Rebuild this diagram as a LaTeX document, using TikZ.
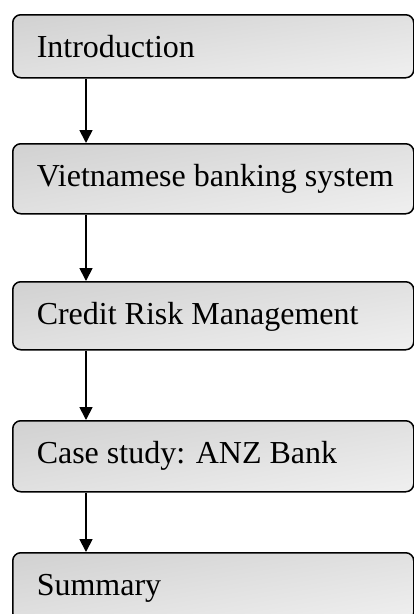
\documentclass[tikz,border=0pt]{standalone}
\usepackage{fontspec}
\setmainfont{Liberation Serif}
\usetikzlibrary{arrows.meta}

% grey at the upper left corner, white at the lower right corner
\pgfdeclarefunctionalshading{stagefill}{\pgfpoint{-50bp}{-50bp}}{\pgfpoint{50bp}{50bp}}{}{
  sub 200 div 0.5 add 0.24 mul 0.76 add dup dup
}

\tikzset{
  stage/.style 2 args={
    draw=black, line width=1.5pt, rounded corners=8pt,
    shade, shading=stagefill,
    anchor=north west, minimum width=401pt,
    minimum height=#1pt, text height=#2pt, text depth=0pt,
    inner xsep=24pt, inner ysep=0pt,
    font=\fontsize{32}{38}\selectfont
  },
  flow/.style={line width=1.8pt, -{Triangle[width=13pt,length=13pt]}}
}
\newcommand{\stagetext}[1]{\makebox[353pt][l]{#1}}

\begin{document}
\begin{tikzpicture}[x=1pt,y=-1pt]
  \path[use as bounding box, clip] (0,0) rectangle (414,614);

  \node[stage={63}{23}] (intro) at (12,14)  {\stagetext{Introduction}};
  \node[stage={70}{16}] (vbs)   at (12,143) {\stagetext{Vietnamese banking system}};
  \node[stage={68}{18}] (crm)   at (12,281) {\stagetext{Credit Risk Management}};
  \node[stage={71}{15}] (anz)   at (12,420) {\stagetext{Case study: ANZ Bank}};
  \node[stage={68}{18}] (sum)   at (12,552) {\stagetext{Summary}};

  \draw[flow] ([xshift=74pt]intro.south west) -- ([xshift=74pt]vbs.north west);
  \draw[flow] ([xshift=74pt]vbs.south west)   -- ([xshift=74pt]crm.north west);
  \draw[flow] ([xshift=74pt]crm.south west)   -- ([xshift=74pt]anz.north west);
  \draw[flow] ([xshift=74pt]anz.south west)   -- ([xshift=74pt]sum.north west);
\end{tikzpicture}
\end{document}
